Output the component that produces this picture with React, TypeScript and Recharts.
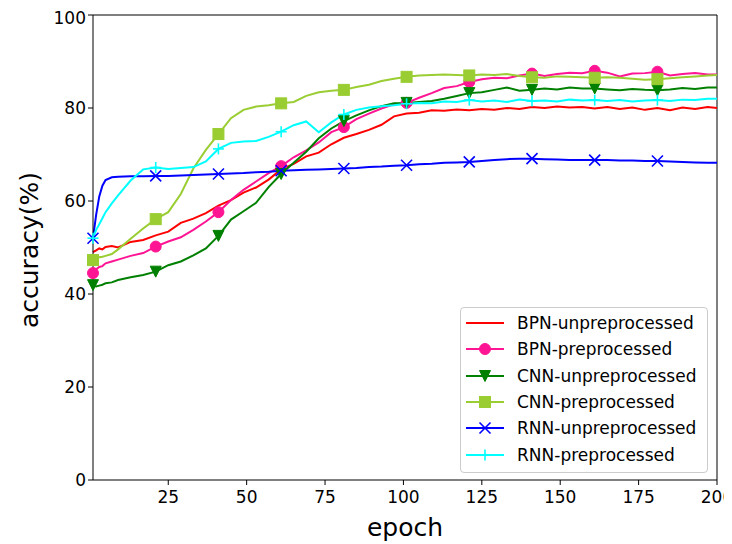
import React from 'react'
import { LineChart, Line, XAxis, YAxis, ReferenceLine, Legend } from 'recharts'

const FONT = '"DejaVu Sans", sans-serif'

const EPOCHS = [
  1, 2, 3, 4, 5, 7, 9, 13, 17, 21,
  25, 29, 33, 37, 41, 45, 49, 53, 57, 61,
  65, 69, 73, 77, 81, 85, 89, 93, 97, 101,
  105, 109, 113, 117, 121, 125, 129, 133, 137, 141,
  145, 149, 153, 157, 161, 165, 169, 173, 177, 181,
  185, 189, 193, 197, 200,
]

const BPN_UNPRE = [
  49.0, 49.4, 49.8, 49.6, 50.1, 50.3, 50.0, 51.2, 51.6, 52.6,
  53.4, 55.3, 56.2, 57.4, 59.0, 60.2, 61.8, 62.9, 64.6, 66.8,
  68.0, 69.6, 70.4, 72.2, 73.6, 74.4, 75.3, 76.4, 78.2, 78.8,
  79.0, 79.5, 79.4, 79.7, 79.5, 79.8, 79.6, 80.0, 79.8, 80.2,
  80.0, 80.3, 80.1, 80.2, 79.9, 80.2, 79.8, 80.1, 79.6, 80.0,
  79.5, 80.1, 79.8, 80.2, 80.0,
]
const BPN_PRE = [
  44.5, 45.3, 45.8, 46.0, 46.6, 47.0, 47.4, 48.2, 48.8, 50.2,
  51.3, 52.2, 53.8, 55.6, 57.6, 60.2, 62.4, 64.2, 66.0, 67.5,
  69.4, 70.9, 72.6, 74.8, 75.9, 77.6, 78.8, 79.9, 80.8, 81.1,
  82.2, 83.2, 84.3, 84.7, 85.6, 86.2, 86.5, 86.4, 87.0, 87.4,
  86.9, 87.3, 87.6, 87.5, 88.0, 87.6, 86.8, 87.4, 87.5, 87.8,
  87.0, 87.3, 87.5, 87.2, 87.2,
]
const CNN_UNPRE = [
  41.9, 41.6, 41.8, 42.0, 42.3, 42.5, 43.0, 43.6, 44.1, 44.8,
  46.2, 47.0, 48.3, 49.8, 52.5, 56.0, 57.8, 59.6, 63.0, 65.8,
  68.2, 70.6, 73.5, 75.6, 77.2, 78.4, 79.5, 80.4, 81.0, 81.1,
  81.3, 81.5, 82.0, 82.6, 83.2, 83.4, 83.9, 84.4, 83.7, 83.9,
  84.2, 84.0, 84.4, 84.2, 84.2, 84.0, 83.8, 84.1, 83.9, 83.8,
  84.0, 84.3, 84.1, 84.4, 84.4,
]
const CNN_PRE = [
  47.3, 47.6, 47.9, 48.0, 48.2, 48.6, 49.6, 51.9, 54.1, 56.1,
  57.6, 61.5, 67.0, 71.0, 74.4, 77.8, 79.6, 80.3, 80.6, 81.0,
  81.3, 82.6, 83.4, 83.7, 83.9, 84.5, 85.0, 85.8, 86.3, 86.7,
  87.0, 87.1, 87.2, 87.1, 87.0, 87.2, 87.1, 87.3, 86.9, 86.6,
  86.5, 86.8, 86.7, 86.6, 86.5, 86.6, 86.5, 86.3, 86.1, 86.2,
  86.4, 86.6, 86.8, 87.0, 87.1,
]
const RNN_UNPRE = [
  52.0, 57.0, 61.0, 63.3, 64.5, 65.1, 65.2, 65.3, 65.3, 65.4,
  65.4, 65.5, 65.6, 65.7, 65.8, 65.9, 66.0, 66.2, 66.3, 66.5,
  66.6, 66.7, 66.8, 66.9, 67.0, 67.1, 67.3, 67.4, 67.6, 67.7,
  67.9, 68.0, 68.2, 68.3, 68.4, 68.6, 68.8, 69.0, 69.1, 69.1,
  69.0, 68.9, 68.8, 68.8, 68.8, 68.8, 68.7, 68.7, 68.6, 68.6,
  68.5, 68.4, 68.3, 68.2, 68.2,
]
const RNN_PRE = [
  52.0, 53.8, 55.0, 56.3, 57.6, 59.5, 61.2, 64.4, 66.8, 67.2,
  66.9, 67.1, 67.3, 68.5, 71.2, 72.5, 72.8, 72.9, 73.8, 74.9,
  76.3, 77.1, 74.8, 76.9, 78.6, 79.6, 80.1, 80.4, 80.6, 80.9,
  81.1, 81.0, 81.4, 81.3, 81.7, 81.4, 81.6, 81.3, 81.8, 81.5,
  81.6, 81.4, 81.8, 81.6, 81.7, 81.5, 81.7, 81.4, 81.6, 81.7,
  81.5, 81.8, 81.7, 82.0, 82.0,
]

const X_TICKS = [25, 50, 75, 100, 125, 150, 175, 200]
const Y_TICKS = [0, 20, 40, 60, 80, 100]

type Shape = 'circle' | 'triDown' | 'square' | 'x' | 'plus' | null

const SERIES: { key: string; name: string; color: string; marker: Shape; values: number[] }[] = [
  { key: 'bpnU', name: 'BPN-unpreprocessed', color: '#ff0000', marker: null, values: BPN_UNPRE },
  { key: 'bpnP', name: 'BPN-preprocessed', color: '#ff1493', marker: 'circle', values: BPN_PRE },
  { key: 'cnnU', name: 'CNN-unpreprocessed', color: '#008000', marker: 'triDown', values: CNN_UNPRE },
  { key: 'cnnP', name: 'CNN-preprocessed', color: '#9acd32', marker: 'square', values: CNN_PRE },
  { key: 'rnnU', name: 'RNN-unpreprocessed', color: '#0000ff', marker: 'x', values: RNN_UNPRE },
  { key: 'rnnP', name: 'RNN-preprocessed', color: '#00ffff', marker: 'plus', values: RNN_PRE },
]

const data = EPOCHS.map((epoch, i) => {
  const row: Record<string, number> = { epoch }
  SERIES.forEach(s => { row[s.key] = s.values[i] })
  return row
})

const R = 5.5

function markerShape(shape: Shape, color: string, cx: number, cy: number) {
  switch (shape) {
    case 'circle':
      return <circle cx={cx} cy={cy} r={R} fill={color} stroke={color} strokeWidth={1} />
    case 'triDown':
      return (
        <polygon
          points={`${cx - R},${cy - R} ${cx + R},${cy - R} ${cx},${cy + R}`}
          fill={color} stroke={color} strokeWidth={1}
        />
      )
    case 'square':
      return <rect x={cx - R} y={cy - R} width={2 * R} height={2 * R} fill={color} stroke={color} strokeWidth={1} />
    case 'x':
      return (
        <g stroke={color} strokeWidth={1.6}>
          <line x1={cx - R} y1={cy - R} x2={cx + R} y2={cy + R} />
          <line x1={cx - R} y1={cy + R} x2={cx + R} y2={cy - R} />
        </g>
      )
    case 'plus':
      return (
        <g stroke={color} strokeWidth={1.6}>
          <line x1={cx - R} y1={cy} x2={cx + R} y2={cy} />
          <line x1={cx} y1={cy - R} x2={cx} y2={cy + R} />
        </g>
      )
    default:
      return null
  }
}

// markers only every 20 epochs (1, 21, 41, ...)
const makeDot = (shape: Shape, color: string) => (props: any) => {
  const { cx, cy, index, payload } = props
  if (!shape || cx == null || cy == null || payload.epoch % 20 !== 1) {
    return <g key={`dot-${index}`} />
  }
  return <g key={`dot-${index}`}>{markerShape(shape, color, cx, cy)}</g>
}

const renderLegend = () => (
  <div
    style={{
      boxSizing: 'border-box', width: 248, height: 166,
      border: '1px solid #cccccc', borderRadius: 4,
      background: 'rgba(255,255,255,0.8)', paddingTop: 2,
      fontFamily: FONT, fontSize: 17, color: '#000',
    }}
  >
    {SERIES.map(s => (
      <div key={s.key} style={{ display: 'flex', alignItems: 'center', height: 26.3 }}>
        <svg width={56} height={26} style={{ flex: 'none' }}>
          <line x1={5} x2={43} y1={13} y2={13} stroke={s.color} strokeWidth={2} />
          {s.marker && markerShape(s.marker, s.color, 24, 13)}
        </svg>
        <span style={{ whiteSpace: 'nowrap', lineHeight: '26px' }}>{s.name}</span>
      </div>
    ))}
  </div>
)

const tickStyle = { fill: '#000', fontSize: 17, fontFamily: FONT }

export default function App() {
  return (
    <LineChart width={724} height={536} data={data} margin={{ top: 7, right: 15, left: 0, bottom: 0 }}>
      <XAxis
        dataKey="epoch" type="number" domain={[1, 200]} ticks={X_TICKS}
        height={64} tickSize={5} tickMargin={6}
        axisLine={{ stroke: '#000' }} tickLine={{ stroke: '#000' }} tick={tickStyle}
        label={() => (
          <text x={397} y={528} textAnchor="middle" fontSize={25} fontFamily={FONT} fill="#000">epoch</text>
        )}
      />
      <YAxis
        type="number" domain={[0, 100]} ticks={Y_TICKS}
        width={85} tickSize={5} tickMargin={2}
        axisLine={{ stroke: '#000' }} tickLine={{ stroke: '#000' }} tick={tickStyle}
        label={() => (
          <text x={30} y={242} transform="rotate(-90 30 242)" textAnchor="middle" fontSize={25} fontFamily={FONT} fill="#000">
            accuracy(%)
          </text>
        )}
      />
      <ReferenceLine y={100} stroke="#000" strokeWidth={1} />
      <ReferenceLine x={200} stroke="#000" strokeWidth={1} />
      {SERIES.map(s => (
        <Line
          key={s.key}
          dataKey={s.key}
          name={s.name}
          type="linear"
          stroke={s.color}
          strokeWidth={2}
          dot={s.marker ? makeDot(s.marker, s.color) : false}
          activeDot={false}
          isAnimationActive={false}
        />
      ))}
      <Legend
        layout="vertical" align="center" verticalAlign="middle"
        content={renderLegend}
        wrapperStyle={{ left: 452, top: 299, width: 248, height: 166 }}
      />
    </LineChart>
  )
}
